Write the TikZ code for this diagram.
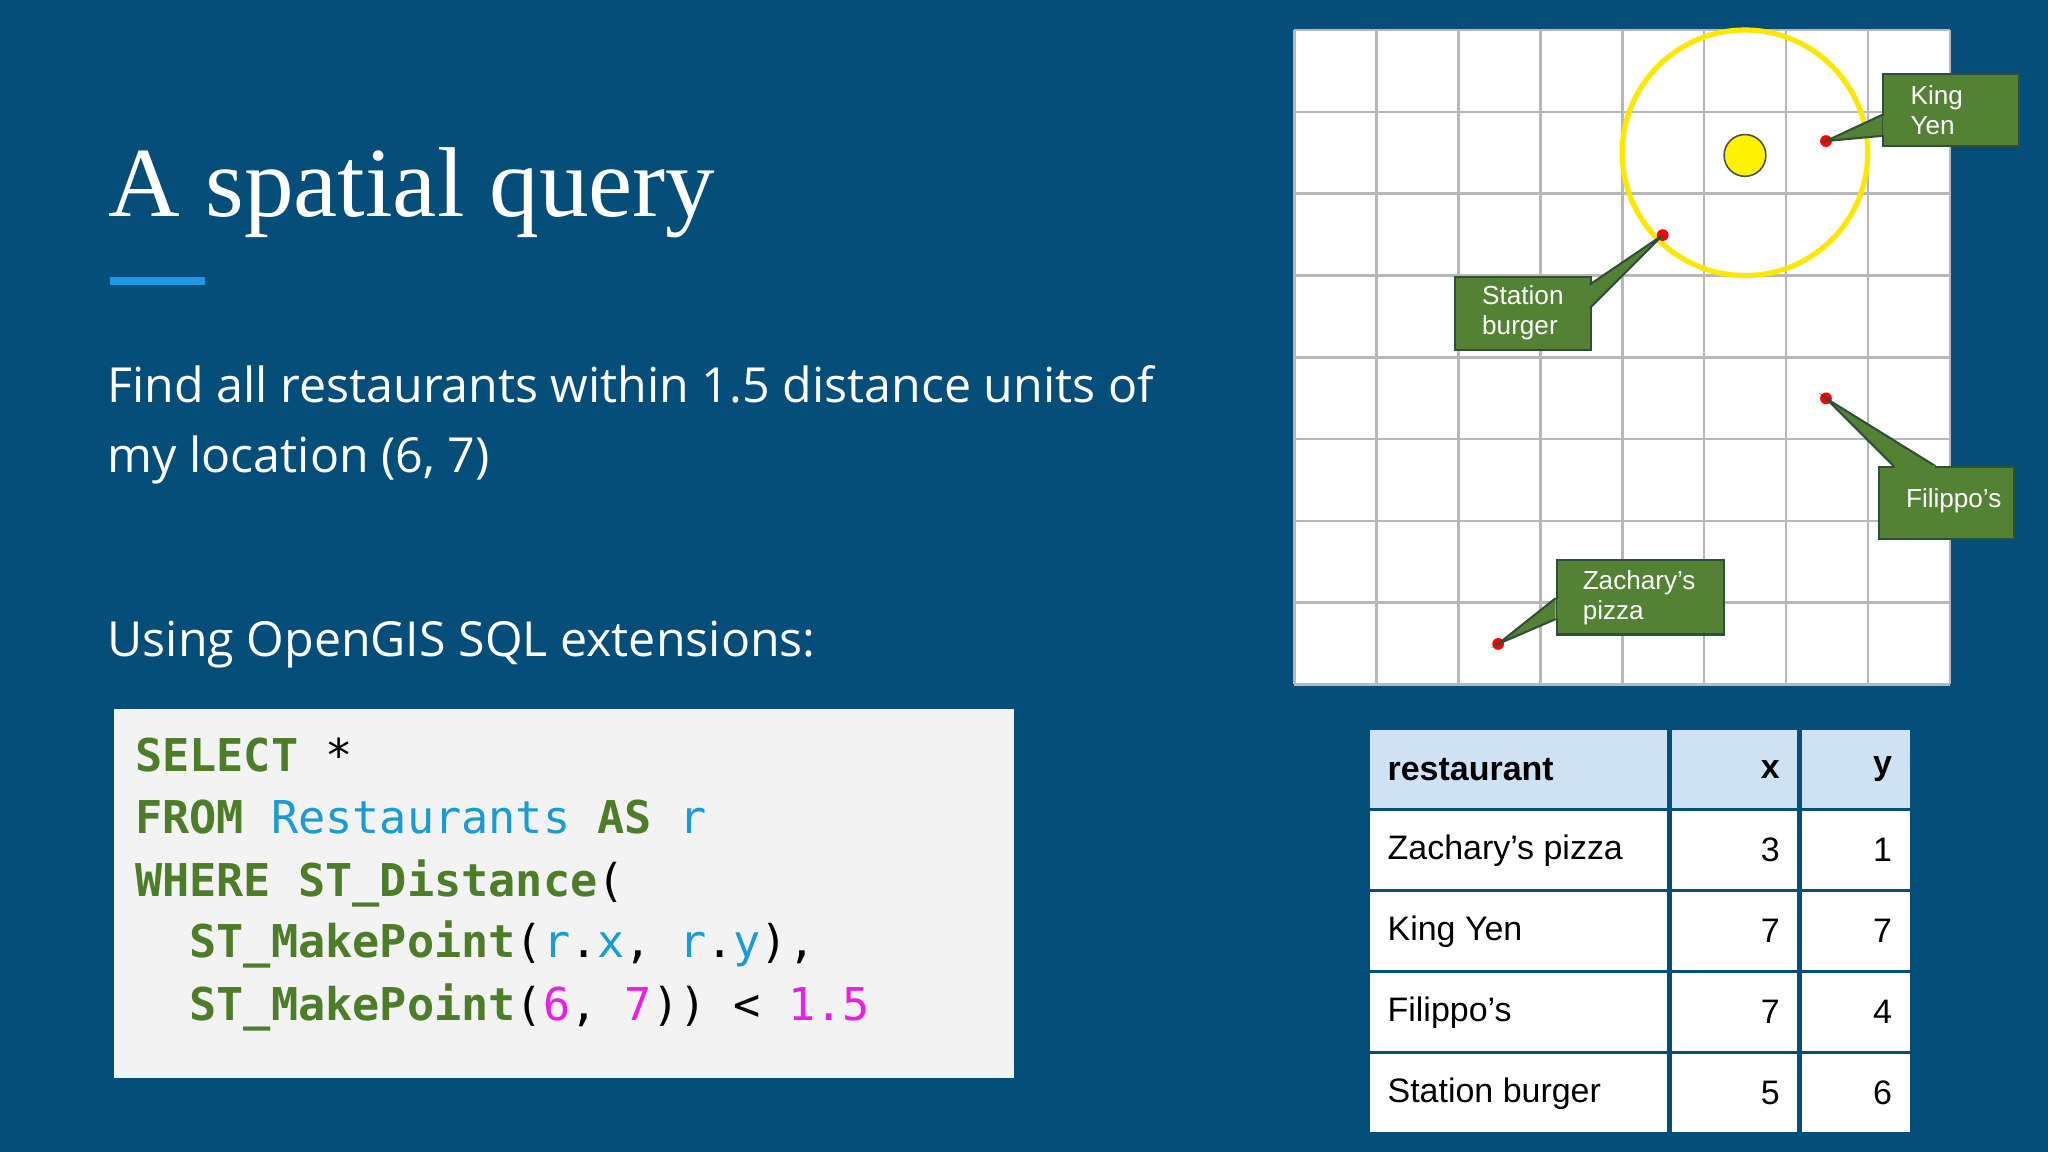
\documentclass[tikz,border=0pt]{standalone}
\usepackage{fontspec}
\setmainfont{Open Sans}
\newfontfamily\titlefont{Liberation Serif}
\newfontfamily\codefont{DejaVu Sans Mono}
\newfontfamily\tabfont{Liberation Sans}
\definecolor{bg}{HTML}{054E7A}
\definecolor{kw}{HTML}{4E7D2A}
\definecolor{idc}{HTML}{1A9AD6}
\definecolor{numc}{HTML}{E91EE9}
\definecolor{gridc}{HTML}{B8B8B8}
\definecolor{callc}{HTML}{548235}
\definecolor{callb}{HTML}{2F4F3A}
\definecolor{headc}{HTML}{CFE2F3}
\definecolor{codebg}{HTML}{F3F3F3}
\tikzset{
  txt/.style={anchor=base west,text=white,inner sep=0},
  code/.style={anchor=base west,inner sep=0,font=\codefont\fontsize{17.3}{20}\selectfont},
  callout/.style={fill=callc,draw=callb,line width=0.8pt,text=white,align=left,anchor=north west,inner sep=0,font=\tabfont\fontsize{10}{11.5}\selectfont},
  ptr/.style={fill=callc,draw=callb,line width=0.8pt},
  dot/.style={circle,fill=red,inner sep=0,minimum size=4.5pt},
  cell/.style={fill=white,anchor=north west,inner sep=0},
  ttxt/.style={font=\tabfont\fontsize{13}{15}\selectfont,inner sep=0}
}
\begin{document}
\begin{tikzpicture}[x=0.5pt,y=-0.5pt]
\fill[bg] (0,0) rectangle (1568,882);
\useasboundingbox (0,0) rectangle (1568,882);
% title
\node[txt,font=\titlefont\fontsize{38}{44}\selectfont] (title) at (83,166) {A spatial query};
\fill[color={rgb,255:red,30;green,155;blue,224}] (84,212) rectangle (157,218);
\node[txt,font=\fontsize{18.5}{22}\selectfont] (l1) at (82,308) {Find all restaurants within 1.5 distance units of};
\node[txt,font=\fontsize{18.5}{22}\selectfont] (l2) at (82,362) {my location (6, 7)};
\node[txt,font=\fontsize{18.5}{22}\selectfont] (l3) at (82,503) {Using OpenGIS SQL extensions:};
% code
\fill[codebg] (87,543) rectangle (776,825);
\node[code] (c1) at (103,591) {\textcolor{kw}{\bfseries SELECT} *};
\node[code] (c2) at (103,638) {\textcolor{kw}{\bfseries FROM} \textcolor{idc}{Restaurants} \textcolor{kw}{\bfseries AS} \textcolor{idc}{r}};
\node[code] (c3) at (103,686) {\textcolor{kw}{\bfseries WHERE ST\_Distance}(};
\node[code] (c4) at (103,733) {\ \ \textcolor{kw}{\bfseries ST\_MakePoint}(\textcolor{idc}{r}.\textcolor{idc}{x}, \textcolor{idc}{r}.\textcolor{idc}{y}),};
\node[code] (c5) at (103,781) {\ \ \textcolor{kw}{\bfseries ST\_MakePoint}(\textcolor{numc}{6}, \textcolor{numc}{7})) < \textcolor{numc}{1.5}};
% grid
\fill[white] (991,23) rectangle (1493,524);
\foreach \i in {0,...,8} {
  \draw[gridc,line width=1pt] ({991+62.75*\i},23) -- ({991+62.75*\i},524);
  \draw[gridc,line width=1pt] (991,{23+62.625*\i}) -- (1493,{23+62.625*\i});
}
\draw[yellow!90!orange,line width=2pt] (1336,117) circle[radius=94];
\node[circle,fill=yellow,draw=black!70,line width=0.6pt,minimum size=16pt,inner sep=0] (me) at (1336,119) {};
\node[dot] (pz) at (1147,493) {};
\node[dot] (pk) at (1398,108) {};
\node[dot] (pf) at (1398,305) {};
\node[dot] (ps) at (1273,180) {};
% callouts
\node[callout,minimum width=52pt,minimum height=27.5pt,text width=45pt] (ck) at (1441,56) {\hspace*{7pt}King\\\hspace*{7pt}Yen};
\node[callout,minimum width=52pt,minimum height=28pt,text width=45pt] (cs) at (1113,211) {\hspace*{7pt}Station\\\hspace*{7pt}burger};
\node[callout,minimum width=51.5pt,minimum height=27.5pt,text width=45pt] (cf) at (1438,357) {\\[-6pt]\hspace*{7pt}Filippo’s};
\node[callout,minimum width=64pt,minimum height=28.5pt,text width=58pt] (cz) at (1191,428) {\hspace*{7pt}Zachary’s\\\hspace*{7pt}pizza};
\draw[ptr] (1441,88) -- (pk.center) -- (1441,104);
\draw[ptr] (1217,218) -- (ps.center) -- (1217,236);
\draw[ptr] (1450,357) -- (pf.center) -- (1482,357);
\draw[ptr] (1191,458) -- (pz.center) -- (1191,474);
\fill[callc] (1441.8,88.8) rectangle (1443,103.2);
\fill[callc] (1215.8,218.8) rectangle (1216.5,235.2);
\fill[callc] (1450.8,356.2) rectangle (1481.2,358.2);
\fill[callc] (1191.8,458.8) rectangle (1193,473.2);
% table
\foreach \r/\fc in {0/headc,1/white,2/white,3/white,4/white} {
  \fill[\fc] (1049,{559+62*\r}) rectangle (1276,{619+62*\r});
  \fill[\fc] (1280,{559+62*\r}) rectangle (1376,{619+62*\r});
  \fill[\fc] (1380,{559+62*\r}) rectangle (1462,{619+62*\r});
}
\node[ttxt,anchor=west,font=\tabfont\bfseries\fontsize{13}{15}\selectfont] (h1) at (1062,589) {restaurant};
\node[ttxt,anchor=east,font=\tabfont\bfseries\fontsize{13}{15}\selectfont] (h2) at (1363,589) {x};
\node[ttxt,anchor=east,font=\tabfont\bfseries\fontsize{13}{15}\selectfont] (h3) at (1449,589) {y};
\foreach \r/\n/\x/\y in {1/Zachary’s pizza/3/1,2/King Yen/7/7,3/Filippo’s/7/4,4/Station burger/5/6} {
  \node[ttxt,anchor=west] (n\r) at (1062,{589+62*\r}) {\n};
  \node[ttxt,anchor=east] (x\r) at (1363,{589+62*\r}) {\x};
  \node[ttxt,anchor=east] (y\r) at (1449,{589+62*\r}) {\y};
}
\end{tikzpicture}
\end{document}
